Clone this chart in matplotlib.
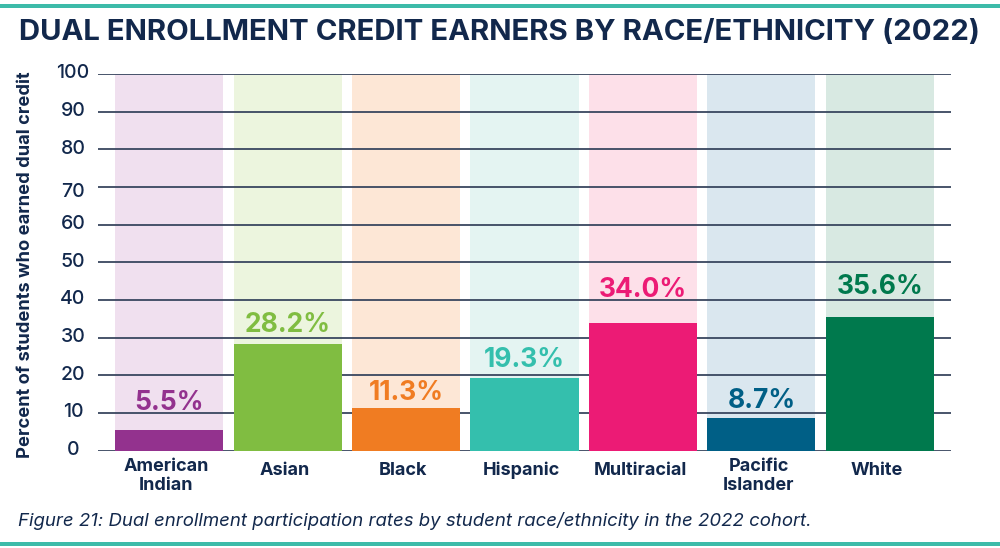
import matplotlib
matplotlib.use('Agg')
import matplotlib.pyplot as plt
from matplotlib.patches import Rectangle
from matplotlib.transforms import ScaledTranslation

# Donnees
groups = ['American\nIndian', 'Asian', 'Black', 'Hispanic', 'Multiracial', 'Pacific\nIslander', 'White']
rates = [5.5, 28.2, 11.3, 19.3, 34.0, 8.7, 35.6]
value_labels = ['5.5%', '28.2%', '11.3%', '19.3%', '34.0%', '8.7%', '35.6%']
bar_colors = ['#93328E', '#80BD41', '#F07C22', '#34BFAD', '#EC1B75', '#005F86', '#00794D']
pale_colors = ['#F0E0EF', '#ECF5DE', '#FDE7D6', '#E4F4F2', '#FDE0E9', '#DAE7EF', '#D8E9E2']
y_ticks = [0, 10, 20, 30, 40, 50, 60, 70, 80, 90, 100]

# ecart entre la barre et son etiquette (place a la main dans l'original)
label_gaps = [5.3, 3.4, 2.1, 2.9, 6.9, 2.6, 6.1]

navy = '#12284C'
teal = '#3DBBA9'
plt.rcParams['font.family'] = ['Inter', 'DejaVu Sans']

fig = plt.figure(figsize=(10, 5.48), dpi=100)
ax = fig.add_axes([98 / 1000, 1 - 450.6 / 548, 853 / 1000, 376.6 / 548])

x = range(len(groups))
ax.bar(x, [100] * len(groups), width=0.912, color=pale_colors, zorder=1)
ax.bar(x, rates, width=0.912, color=bar_colors, zorder=3)

for i in x:
    ax.text(i, rates[i] + label_gaps[i], value_labels[i], color=bar_colors[i], ha='center', va='baseline',
            fontsize=19, fontweight='bold', zorder=4)

ax.set_xlim(-0.6, 6.6)
ax.set_ylim(0, 100)
ax.set_yticks(y_ticks)
ax.set_yticklabels([str(t) for t in y_ticks], ha='center')
ax.set_xticks(list(x))
ax.set_xticklabels(groups, linespacing=1.2, va='top')
ax.yaxis.grid(True, color='#39475F', linewidth=1.3, zorder=2)
ax.set_axisbelow(False)
for line in ax.get_ygridlines():
    line.set_zorder(2)
ax.tick_params(axis='y', length=0, pad=18, labelsize=14, labelcolor=navy)
ax.tick_params(axis='x', length=0, pad=5, labelsize=13, labelcolor=navy)
for lab in ax.get_yticklabels():
    lab.set_fontweight('medium')
    # les etiquettes de l'original sont un peu au-dessus des lignes
    dy = -2 / 72 if lab.get_text() == '70' else 2 / 72
    lab.set_transform(lab.get_transform() + ScaledTranslation(0, dy, fig.dpi_scale_trans))
for lab in ax.get_xticklabels():
    lab.set_fontweight('bold')
    dy = 0 if '\n' in lab.get_text() else -3 / 72
    lab.set_transform(lab.get_transform() + ScaledTranslation(-2 / 72, dy, fig.dpi_scale_trans))
for s in ax.spines.values():
    s.set_visible(False)

ax.set_ylabel('Percent of students who earned dual credit', fontsize=13.2, fontweight='bold', color=navy)
ax.yaxis.set_label_coords(34 / 1000, 1 - 265 / 548, transform=fig.transFigure)

# Titre, legende et bandes
fig.text(19 / 1000, 1 - 32 / 548, 'DUAL ENROLLMENT CREDIT EARNERS BY RACE/ETHNICITY (2022)',
         fontsize=21.15, fontweight='bold', color=navy, ha='left', va='center')
fig.text(18 / 1000, 1 - 521 / 548, 'Figure 21: Dual enrollment participation rates by student race/ethnicity in the 2022 cohort.',
         fontsize=13.4, style='italic', color=navy, ha='left', va='center')
fig.add_artist(Rectangle((0, 1 - 7.5 / 548), 1, 4 / 548, transform=fig.transFigure, color=teal, lw=0))
fig.add_artist(Rectangle((0, 1 - 545.5 / 548), 1, 4 / 548, transform=fig.transFigure, color=teal, lw=0))

fig.savefig('out.png', dpi=100)
